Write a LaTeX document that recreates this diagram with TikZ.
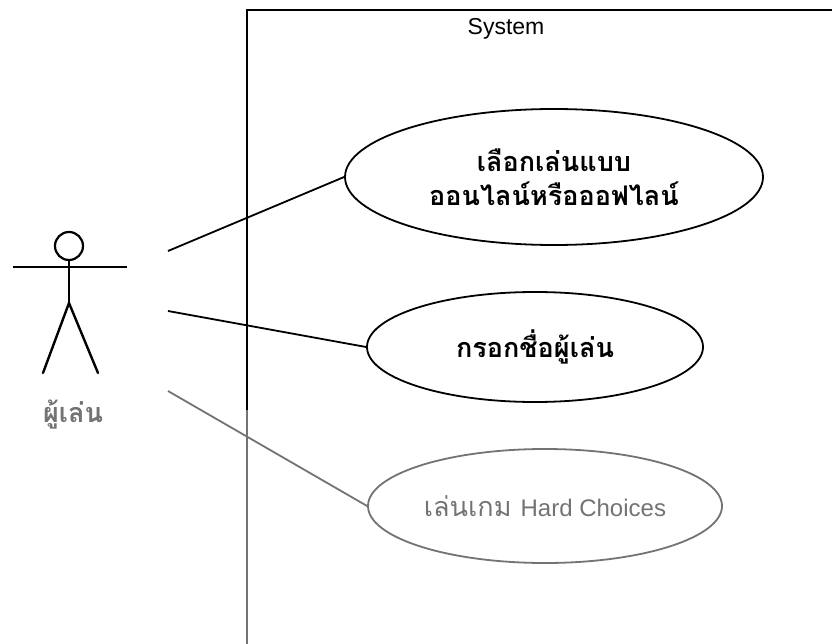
\documentclass[tikz,border=0pt]{standalone}
\usepackage{fontspec}
\setmainfont{Liberation Sans}
\newfontfamily\thai[Script=Thai]{Loma}
\usetikzlibrary{shapes.geometric}
\definecolor{fade}{RGB}{115,115,115}
\tikzset{
  usecase/.style={ellipse, draw, line width=1.8pt, inner sep=0pt, align=center},
  stick/.style={line width=2.4pt, line cap=round},
  assoc/.style={line width=1.8pt},
  frame/.style={line width=1.8pt},
  thaitext/.style={font=\thai\bfseries\fontsize{27}{34}\selectfont},
}
\begin{document}
\begin{tikzpicture}[x=1pt, y=-1pt]
\useasboundingbox (0,0) rectangle (832,644);
% system boundary
\coordinate (tl) at (247,10);
\coordinate (tr) at (832,10);
\coordinate (bm) at (247,410);
\coordinate (bl) at (247,644);
\draw[frame] (tr) -- (tl) -- (bm);
\draw[frame, fade] (bm) -- (bl);
\node[font=\fontsize{23}{27}\selectfont] (sys) at (506,29) {System};
% actor
\node[circle, draw, line width=2.2pt, minimum size=28pt, inner sep=0pt] (head) at (69,246) {};
\coordinate (hip) at (69,303);
\coordinate (armL) at (13,267);
\coordinate (armR) at (127,267);
\coordinate (footL) at (43,373);
\coordinate (footR) at (98,373);
\draw[stick] (head.south) -- (hip);
\draw[line width=1.8pt] (armL) -- (armR);
\draw[stick] (footL) -- (hip) -- (footR);
\node[thaitext, text=fade] (actorlbl) at (73,415) {ผู้เล่น};
% use cases
\node[usecase, thaitext, minimum width=418pt, minimum height=136pt] (uc1) at (554,177)
  {เลือกเล่นแบบ\\ออนไลน์หรือออฟไลน์};
\node[usecase, thaitext, minimum width=336pt, minimum height=110pt] (uc2) at (535,347)
  {กรอกชื่อผู้เล่น};
\node[usecase, draw=fade, text=fade, font=\thai\fontsize{27}{30}\selectfont, minimum width=354pt, minimum height=114pt] (uc3) at (545,506)
  {เล่นเกม {\fontspec{Liberation Sans}\fontsize{24}{30}\selectfont Hard Choices}};
% associations
\coordinate (s1) at (168,251);
\coordinate (s2) at (168,311);
\coordinate (s3) at (168,391);
\draw[assoc] (s1) -- (uc1.west);
\draw[assoc] (s2) -- (uc2.west);
\draw[assoc, fade] (s3) -- (uc3.west);
\end{tikzpicture}
\end{document}
